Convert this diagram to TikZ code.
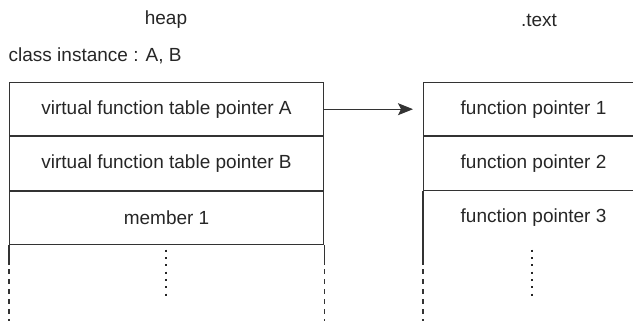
\documentclass[tikz,border=0pt]{standalone}
\usepackage{fontspec}
\setmainfont{Liberation Sans}
\usetikzlibrary{arrows.meta,calc}
\definecolor{ink}{HTML}{262626}
\definecolor{rule}{HTML}{333333}
\begin{document}
\begin{tikzpicture}[x=1pt,y=-1pt,
  lbl/.style={text=ink,font=\fontsize{19}{22}\selectfont,inner sep=0pt},
  cell/.style={draw=rule,line width=1.1pt,rectangle,inner sep=0pt,
    text=ink,font=\fontsize{19}{22}\selectfont,anchor=north west},
  lcell/.style={cell,minimum width=314pt,minimum height=53.3pt},
  rcell/.style={cell,minimum width=220pt,minimum height=53.3pt},
  dashline/.style={draw=rule,line width=1.1pt,dash pattern=on 5pt off 5pt},
  solidline/.style={draw=rule,line width=1.1pt},
  dotline/.style={draw=ink,line width=2pt,dash pattern=on 2pt off 5.3pt}]
\useasboundingbox (0,0) rectangle (633,321);
\node[lbl] (heap) at (166,20) {heap};
\node[lbl] (text) at (539,20) {.text};
\node[lbl,anchor=base west] (cls) at (8.5,62) {class instance : A, B};
\node[lcell] (a1) at (9,82) {virtual function table pointer A};
\node[lcell,anchor=north] (a2) at (a1.south) {virtual function table pointer B};
\node[lcell,anchor=north] (a3) at (a2.south) {member 1};
\node[rcell] (f1) at (423,82) {function pointer 1};
\node[rcell,anchor=north] (f2) at (f1.south) {function pointer 2};
\node[rcell,draw=none,anchor=north] (f3) at (f2.south) {function pointer 3};
\draw[solidline] (f3.north west) -- (f3.south west);
\draw[solidline,-{Stealth[length=15pt,width=12pt,inset=3pt]},shorten >=10pt] (a1.east) -- (f1.west);
% continuation below
\coordinate (la) at ($(a3.south west)+(0,20)$);
\coordinate (lb) at ($(a3.south west)+(0,80)$);
\coordinate (ra) at ($(a3.south east)+(0,20)$);
\coordinate (rb) at ($(a3.south east)+(0,80)$);
\coordinate (ta) at ($(f3.south west)+(0,20)$);
\coordinate (tb) at ($(f3.south west)+(0,80)$);
\draw[solidline] (a3.south west) -- (la);
\draw[solidline] (a3.south east) -- (ra);
\draw[solidline] (f3.south west) -- (ta);
\draw[dashline] ($(la)+(0,4)$) -- (lb);
\draw[dashline] ($(ra)+(0,4)$) -- (rb);
\draw[dashline] ($(ta)+(0,4)$) -- (tb);
\coordinate (d1) at (166,249.7);
\coordinate (d2) at (166,300);
\coordinate (e1) at (532,249.7);
\coordinate (e2) at (532,300);
\draw[dotline] (d1) -- (d2);
\draw[dotline] (e1) -- (e2);
\end{tikzpicture}
\end{document}
